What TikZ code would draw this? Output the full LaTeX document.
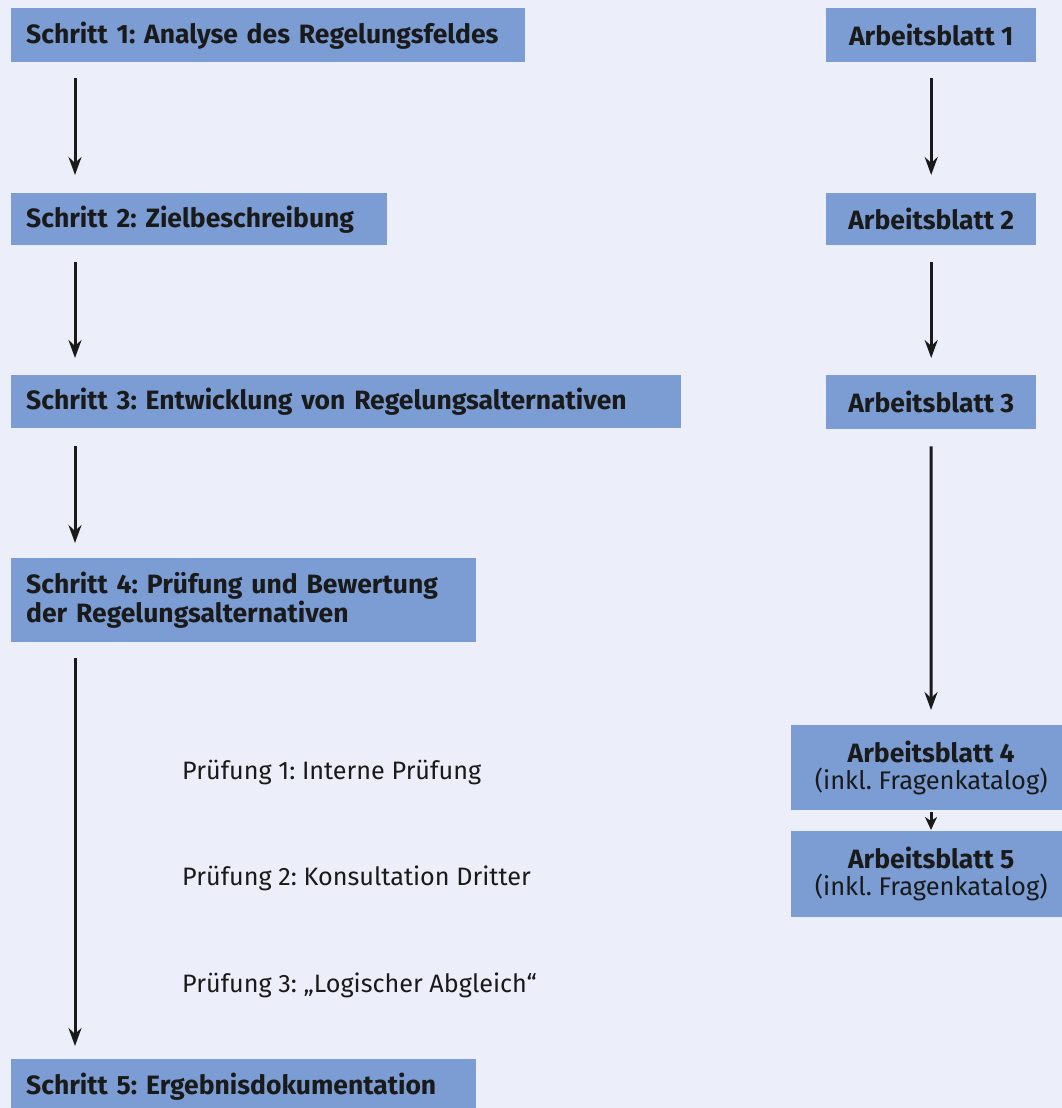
\documentclass[tikz,border=0pt]{standalone}
\usepackage{fontspec}
\setmainfont{Fira Sans}
\frenchspacing
\usetikzlibrary{arrows.meta,calc}
\definecolor{bgc}{HTML}{ECEEFA}
\definecolor{boxc}{HTML}{7B9DD4}
\definecolor{ink}{HTML}{1A1A1A}
\begin{document}
\begin{tikzpicture}[x=1pt,y=-1pt,
  stepbox/.style={fill=boxc, inner xsep=15pt, inner ysep=0pt, anchor=north west, align=left,
    text=ink, font=\fontsize{26.5}{26}\selectfont\bfseries},
  sheetbox/.style={fill=boxc, inner sep=0pt, anchor=north west, align=center,
    text=ink, font=\fontsize{25.5}{27}\selectfont},
  checktext/.style={anchor=base west, inner sep=0pt, text=ink, font=\fontsize{25.2}{26}\selectfont},
  arr/.style={draw=ink, line width=3pt, -{Stealth[length=18pt,width=13pt,inset=6pt]}}
]
\fill[bgc] (0,0) rectangle (1062,1108);
\useasboundingbox (0,0) rectangle (1062,1108);
\clip (0,0) rectangle (1062,1108);

% left column
\node[stepbox, text width=484pt, minimum height=54pt] (s1) at (11,8) {Schritt 1: Analyse des Regelungsfeldes};
\node[stepbox, text width=346pt, minimum height=52pt] (s2) at (11,193) {Schritt 2: Zielbeschreibung};
\node[stepbox, text width=640pt, minimum height=53pt] (s3) at (11,375) {Schritt 3: Entwicklung von Regelungsalternativen};
\node[stepbox, text width=435pt, minimum height=84pt] (s4) at (11,558) {Schritt 4: Prüfung und Bewertung\\der Regelungsalternativen};
\node[stepbox, text width=435pt, minimum height=54pt] (s5) at (11,1059) {Schritt 5: Ergebnisdokumentation};

% right column
\node[sheetbox, minimum width=210pt, minimum height=54pt] (a1) at (826,8) {\fontsize{26.5}{27}\selectfont\bfseries Arbeitsblatt 1};
\node[sheetbox, minimum width=210pt, minimum height=52pt] (a2) at (826,193) {\fontsize{26.5}{27}\selectfont\bfseries Arbeitsblatt 2};
\node[sheetbox, minimum width=210pt, minimum height=54pt] (a3) at (826,375) {\fontsize{26.5}{27}\selectfont\bfseries Arbeitsblatt 3};
\node[sheetbox, minimum width=280pt, minimum height=85pt] (a4) at (791,725) {{\fontsize{26.5}{27}\selectfont\bfseries Arbeitsblatt 4}\\(inkl. Fragenkatalog)};
\node[sheetbox, minimum width=280pt, minimum height=86pt] (a5) at (791,831) {{\fontsize{26.5}{27}\selectfont\bfseries Arbeitsblatt 5}\\(inkl. Fragenkatalog)};

% checks
\node[checktext] (p1) at (182,779) {Prüfung 1: Interne Prüfung};
\node[checktext] (p2) at (182,885) {Prüfung 2: Konsultation Dritter};
\node[checktext] (p3) at (182,992) {Prüfung 3: „Logischer Abgleich“};

% arrows left
\draw[arr, shorten <=16pt, shorten >=18pt] ($(s1.south west)+(64,0)$) -- ($(s2.north west)+(64,0)$);
\draw[arr, shorten <=17pt, shorten >=17pt] ($(s2.south west)+(64,0)$) -- ($(s3.north west)+(64,0)$);
\draw[arr, shorten <=18pt, shorten >=15pt] ($(s3.south west)+(64,0)$) -- ($(s4.north west)+(64,0)$);
\draw[arr, shorten <=16pt, shorten >=13pt] ($(s4.south west)+(64,0)$) -- ($(s5.north west)+(64,0)$);

% arrows right
\draw[arr, shorten <=16pt, shorten >=18pt] (a1.south) -- (a2.north);
\draw[arr, shorten <=17pt, shorten >=17pt] (a2.south) -- (a3.north);
\draw[arr, shorten <=17pt, shorten >=15pt] (a3.south) -- ($(a4.north west)+(140,0)$);
\draw[arr, -{Stealth[length=13pt,width=12pt,inset=4pt]}, shorten <=2pt, shorten >=1pt] ($(a4.south west)+(140,0)$) -- ($(a5.north west)+(140,0)$);
\end{tikzpicture}
\end{document}
